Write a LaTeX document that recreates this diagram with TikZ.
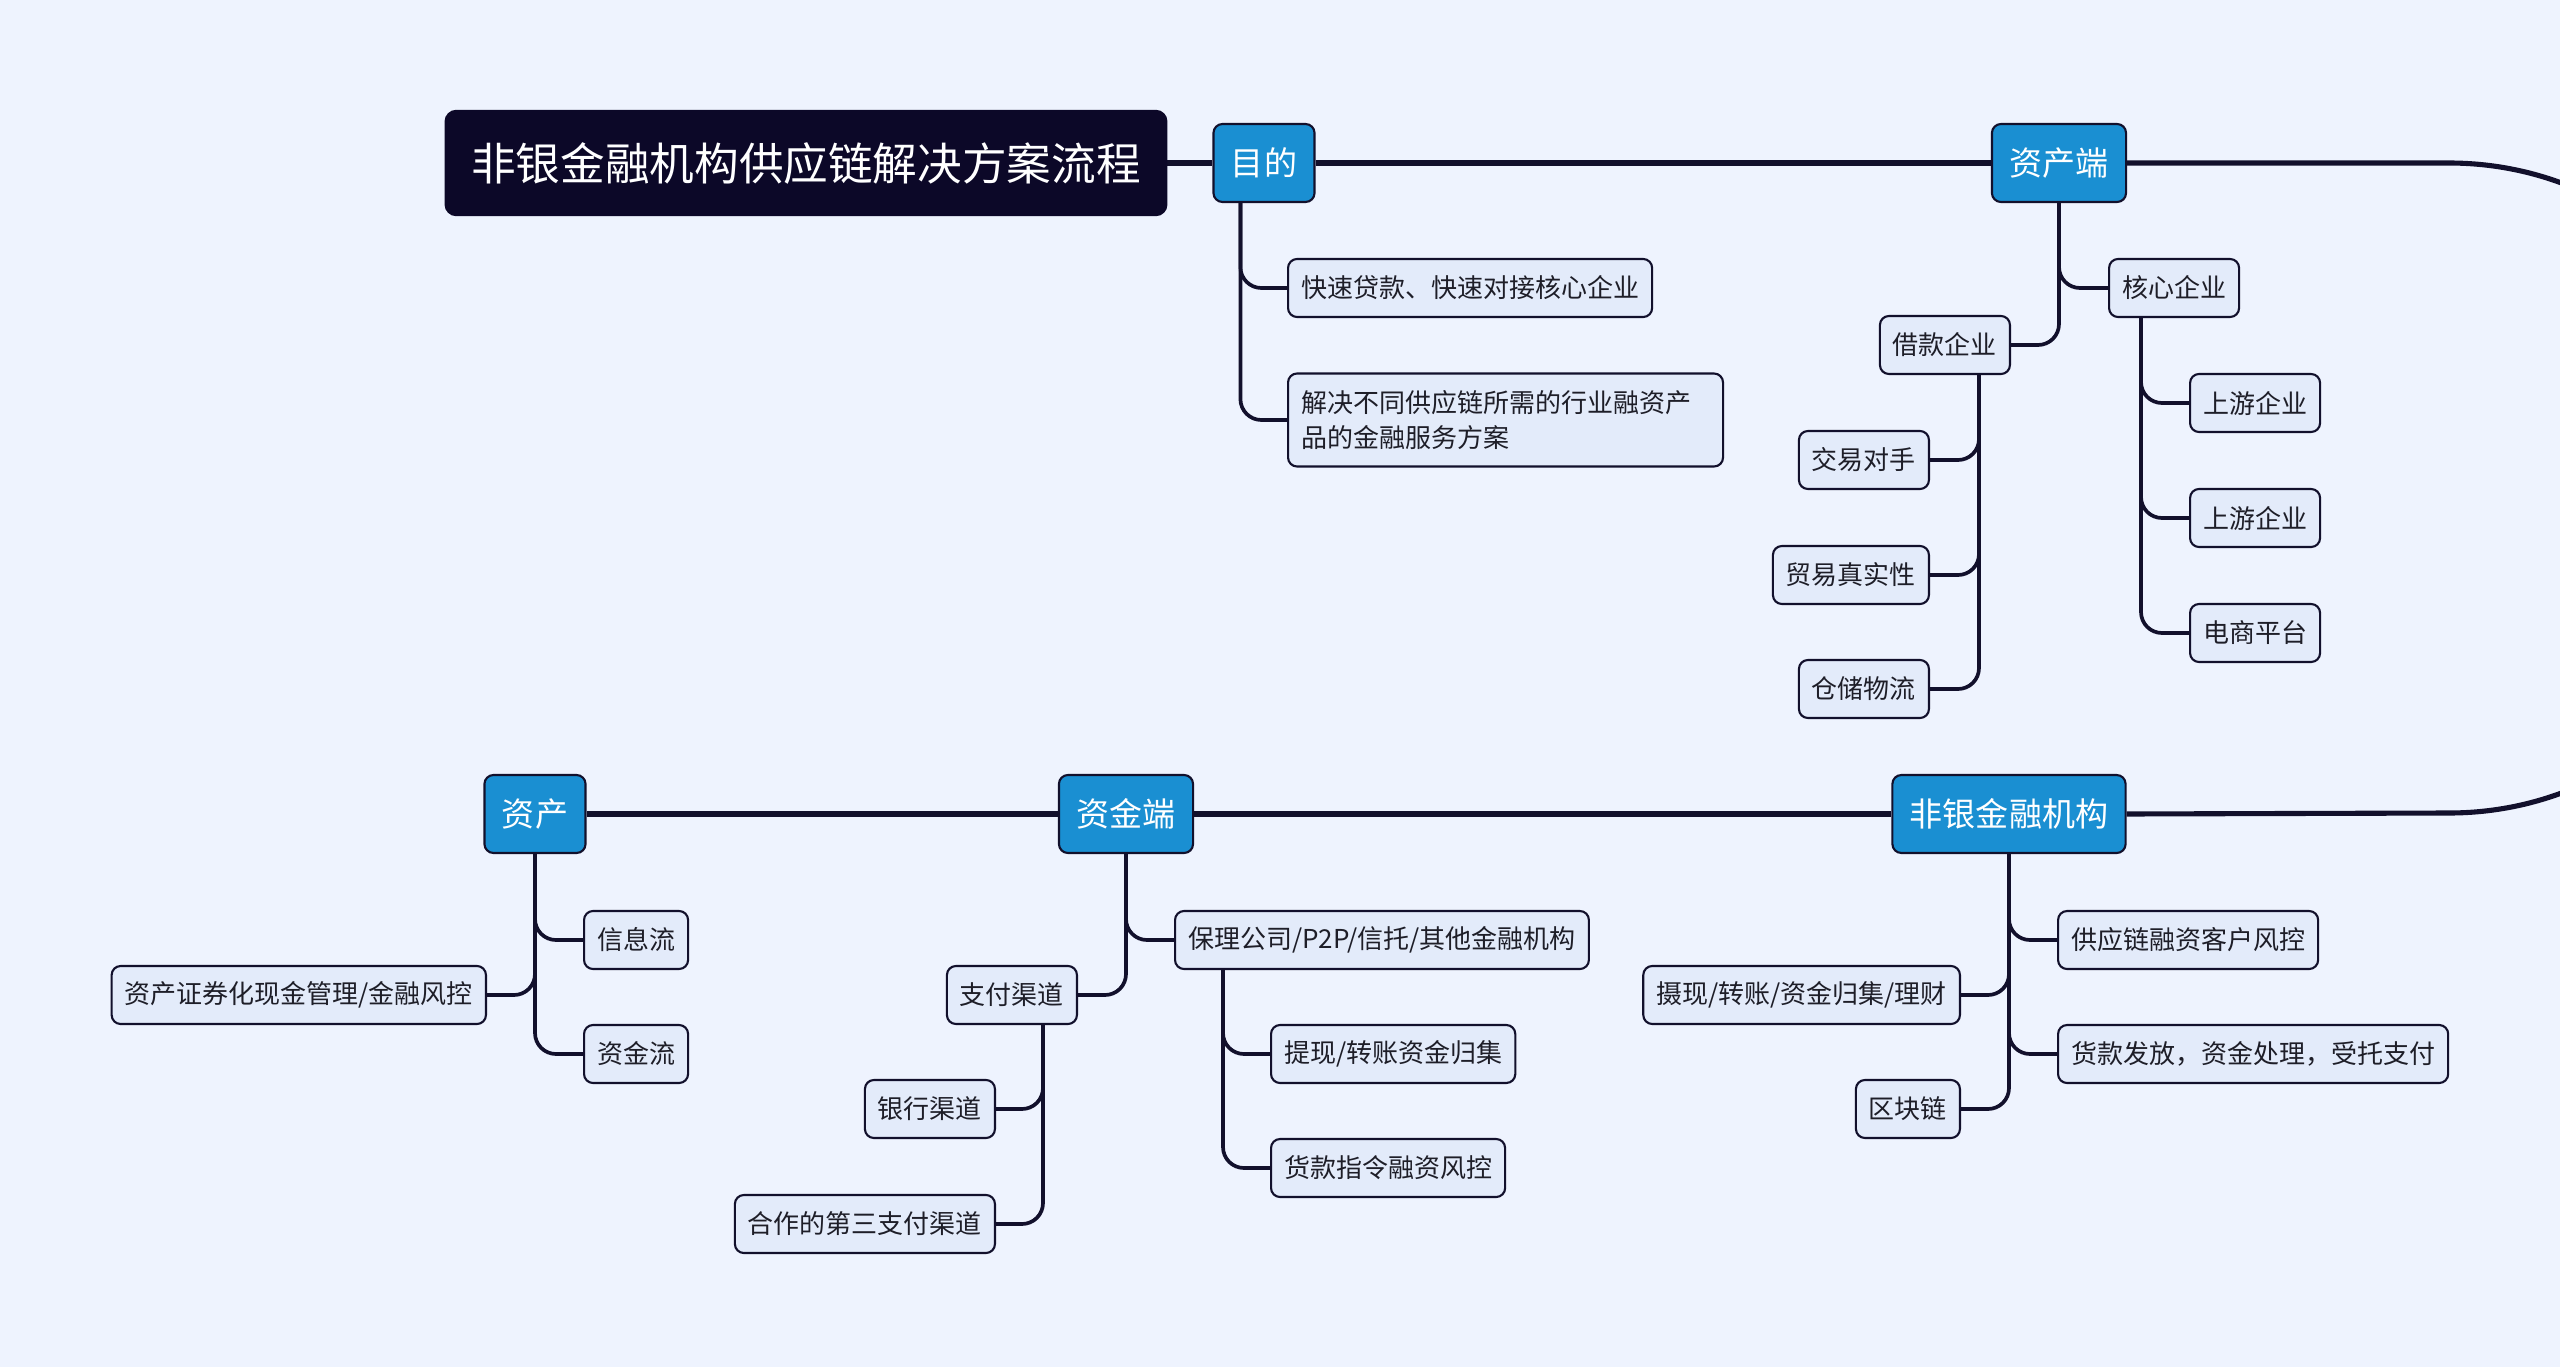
\documentclass[tikz,border=0pt]{standalone}
\usepackage{fontspec}
\setmainfont{Noto Sans CJK SC}
\usetikzlibrary{backgrounds}
\definecolor{bgc}{HTML}{EEF3FE}
\definecolor{subfill}{HTML}{E3EBFA}
\definecolor{edgec}{HTML}{12102C}
\definecolor{topicfill}{HTML}{1A8FD2}
\definecolor{titlefill}{HTML}{0C0828}
\definecolor{textc}{HTML}{1E1E28}
\begin{document}
\begin{tikzpicture}[x=0.1mm,y=-0.1mm,
  sub/.style={draw=edgec,line width=0.6pt,fill=subfill,rounded corners=0.9mm,
    inner xsep=1.3mm,inner ysep=0pt,minimum height=5.8mm,text=textc,
    font=\fontsize{7.4pt}{10.2pt}\selectfont},
  topic/.style={draw=edgec,line width=0.6pt,fill=topicfill,rounded corners=0.9mm,
    inner xsep=1.75mm,inner ysep=0pt,minimum height=7.8mm,text=white,
    font=\fontsize{9.4pt}{11pt}\selectfont},
  titlebox/.style={draw=titlefill,fill=titlefill,rounded corners=1.1mm,
    inner xsep=2.6mm,inner ysep=0pt,minimum height=10.5mm,text=white,
    font=\fontsize{12.7pt}{14pt}\selectfont},
  mainline/.style={draw=edgec,line width=1.45pt},
  branch/.style={draw=edgec,line width=1.05pt,rounded corners=2.1mm}]
\clip (0,0) rectangle (2560,1367);
\useasboundingbox (0,0) rectangle (2560,1367);

% main nodes
\node[titlebox] (title) at (806,163) {非银金融机构供应链解决方案流程};
\node[topic] (md) at (1264,163) {目的};
\node[topic] (zc) at (2059,163) {资产端};
\node[topic] (fy) at (2009,814) {非银金融机构};
\node[topic] (zj) at (1126,814) {资金端};
\node[topic] (zc2) at (535,814) {资产};

% right-side children
\node[sub,anchor=west] (c1) at (1287,288) {快速贷款、快速对接核心企业};
\node[sub,anchor=west,text width=40.9mm,align=left,minimum height=9.3mm] (c2) at (1287,420) {解决不同供应链所需的行业融资产\\品的金融服务方案};
\node[sub,anchor=west] (hx) at (2108,288) {核心企业};
\node[sub,anchor=west] (sy1) at (2189,403) {上游企业};
\node[sub,anchor=west] (sy2) at (2189,518) {上游企业};
\node[sub,anchor=west] (ds) at (2189,633) {电商平台};
\node[sub,anchor=west] (xx) at (583,940) {信息流};
\node[sub,anchor=west] (zjl) at (583,1054) {资金流};
\node[sub,anchor=west] (bl) at (1174,940) {保理公司/P2P/信托/其他金融机构};
\node[sub,anchor=west] (tx) at (1270,1054) {提现/转账资金归集};
\node[sub,anchor=west] (hk) at (1270,1168) {货款指令融资风控};
\node[sub,anchor=west] (gy) at (2057,940) {供应链融资客户风控};
\node[sub,anchor=west] (hf) at (2057,1054) {货款发放，资金处理，受托支付};

% left-side children
\node[sub,anchor=east] (jk) at (2011,345) {借款企业};
\node[sub,anchor=east] (jy) at (1930,460) {交易对手};
\node[sub,anchor=east] (my) at (1930,575) {贸易真实性};
\node[sub,anchor=east] (cc) at (1930,689) {仓储物流};
\node[sub,anchor=east] (zq) at (487,995) {资产证券化现金管理/金融风控};
\node[sub,anchor=east] (zf) at (1078,995) {支付渠道};
\node[sub,anchor=east] (yh) at (996,1109) {银行渠道};
\node[sub,anchor=east] (hz) at (996,1224) {合作的第三支付渠道};
\node[sub,anchor=east] (sx) at (1961,995) {摄现/转账/资金归集/理财};
\node[sub,anchor=east] (qk) at (1961,1109) {区块链};

\begin{pgfonlayer}{background}
\fill[bgc] (0,0) rectangle (2560,1367);
% main line
\draw[mainline] (title.east) -- (md.west);
\draw[mainline] (md.east) -- (zc.west);
\coordinate (arcstart) at (2449,163);
\draw[mainline] (zc.east) -- (arcstart) arc[start angle=-90,end angle=90,radius=325] -- (fy.east);
\draw[mainline] (fy.west) -- (zj.east);
\draw[mainline] (zj.west) -- (zc2.east);
% branches
\draw[branch] ([xshift=2.8mm]md.south west) |- (c1.west);
\draw[branch] ([xshift=2.8mm]md.south west) |- (c2.west);
\draw[branch] (zc.south) |- (hx.west);
\draw[branch] (zc.south) |- (jk.east);
\draw[branch] ([xshift=3.3mm]hx.south west) |- (sy1.west);
\draw[branch] ([xshift=3.3mm]hx.south west) |- (sy2.west);
\draw[branch] ([xshift=3.3mm]hx.south west) |- (ds.west);
\draw[branch] ([xshift=-3.2mm]jk.south east) |- (jy.east);
\draw[branch] ([xshift=-3.2mm]jk.south east) |- (my.east);
\draw[branch] ([xshift=-3.2mm]jk.south east) |- (cc.east);
\draw[branch] (zc2.south) |- (xx.west);
\draw[branch] (zc2.south) |- (zjl.west);
\draw[branch] (zc2.south) |- (zq.east);
\draw[branch] (zj.south) |- (bl.west);
\draw[branch] (zj.south) |- (zf.east);
\draw[branch] ([xshift=4.9mm]bl.south west) |- (tx.west);
\draw[branch] ([xshift=4.9mm]bl.south west) |- (hk.west);
\draw[branch] ([xshift=-3.5mm]zf.south east) |- (yh.east);
\draw[branch] ([xshift=-3.5mm]zf.south east) |- (hz.east);
\draw[branch] (fy.south) |- (gy.west);
\draw[branch] (fy.south) |- (hf.west);
\draw[branch] (fy.south) |- (sx.east);
\draw[branch] (fy.south) |- (qk.east);
\end{pgfonlayer}
\end{tikzpicture}
\end{document}
